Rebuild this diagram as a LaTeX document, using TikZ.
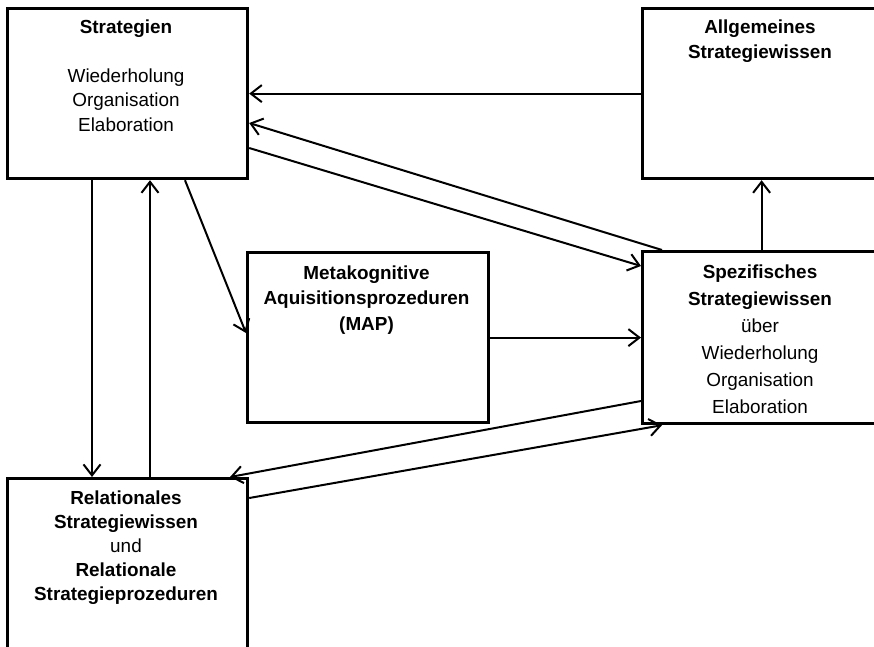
\documentclass[tikz,border=0pt]{standalone}
\usepackage{fontspec}
\setmainfont{Liberation Sans}
\usetikzlibrary{arrows.meta}
\begin{document}
\begin{tikzpicture}[x=1pt,y=-1pt,
  box/.style={draw,line width=3.2pt,rectangle,inner sep=0pt,anchor=north west},
  lbl/.style={align=center,inner sep=0pt,anchor=north},
  conn/.style={line width=2pt,-{Straight Barb[length=11pt,width=17pt]}}]
\useasboundingbox (0,0) rectangle (874,646);
\clip (0,0) rectangle (874,646);
% boxes
\node[box,minimum width=240pt,minimum height=170pt] (strat) at (6,7) {};
\node[box,minimum width=238pt,minimum height=170pt] (alg) at (641,7) {};
\node[box,minimum width=238pt,minimum height=172pt] (spez) at (641,250) {};
\node[box,minimum width=241pt,minimum height=170pt] (map) at (246,251) {};
\node[box,minimum width=240pt,minimum height=200pt] (rel) at (6,477) {};
% texts
\node[lbl,font=\fontsize{18.9}{24.3}\selectfont] (tstrat) at (126,20)
  {\textbf{Strategien}\\[24.3pt]Wiederholung\\Organisation\\Elaboration};
\node[lbl,font=\fontsize{18.9}{25}\selectfont\bfseries] (talg) at (760,19.5)
  {Allgemeines\\Strategiewissen};
\node[lbl,font=\fontsize{18.9}{27}\selectfont] (tspez) at (760,264.5)
  {\textbf{Spezifisches}\\\textbf{Strategiewissen}\\über\\Wiederholung\\Organisation\\Elaboration};
\node[lbl,font=\fontsize{18.9}{25.5}\selectfont\bfseries] (tmap) at (366.5,265.5)
  {Metakognitive\\Aquisitionsprozeduren\\(MAP)};
\node[lbl,font=\fontsize{18.9}{23.8}\selectfont] (trel) at (126,491)
  {\textbf{Relationales}\\\textbf{Strategiewissen}\\und\\\textbf{Relationale}\\\textbf{Strategieprozeduren}};
% connectors
\draw[conn] (alg.west) -- (strat.east);
\draw[conn] ([xshift=21pt]spez.north west) -- ([yshift=-116pt]strat.north east);
\draw[conn] ([yshift=-141pt]strat.north east) -- ([yshift=-16pt]spez.north west);
\draw[conn] (spez.north) -- (alg.south);
\draw[conn] (map.east) -- (spez.west);
\draw[conn] ([xshift=179pt]strat.south west) -- ([yshift=-82pt]map.north west);
\draw[conn] ([xshift=86pt]strat.south west) -- ([xshift=86pt]rel.north west);
\draw[conn] ([xshift=144pt]rel.north west) -- ([xshift=144pt]strat.south west);
\draw[conn] ([yshift=-151pt]spez.north west) -- ([xshift=224pt]rel.north west);
\draw[conn] ([yshift=-21pt]rel.north east) -- ([xshift=21pt]spez.south west);
\end{tikzpicture}
\end{document}
